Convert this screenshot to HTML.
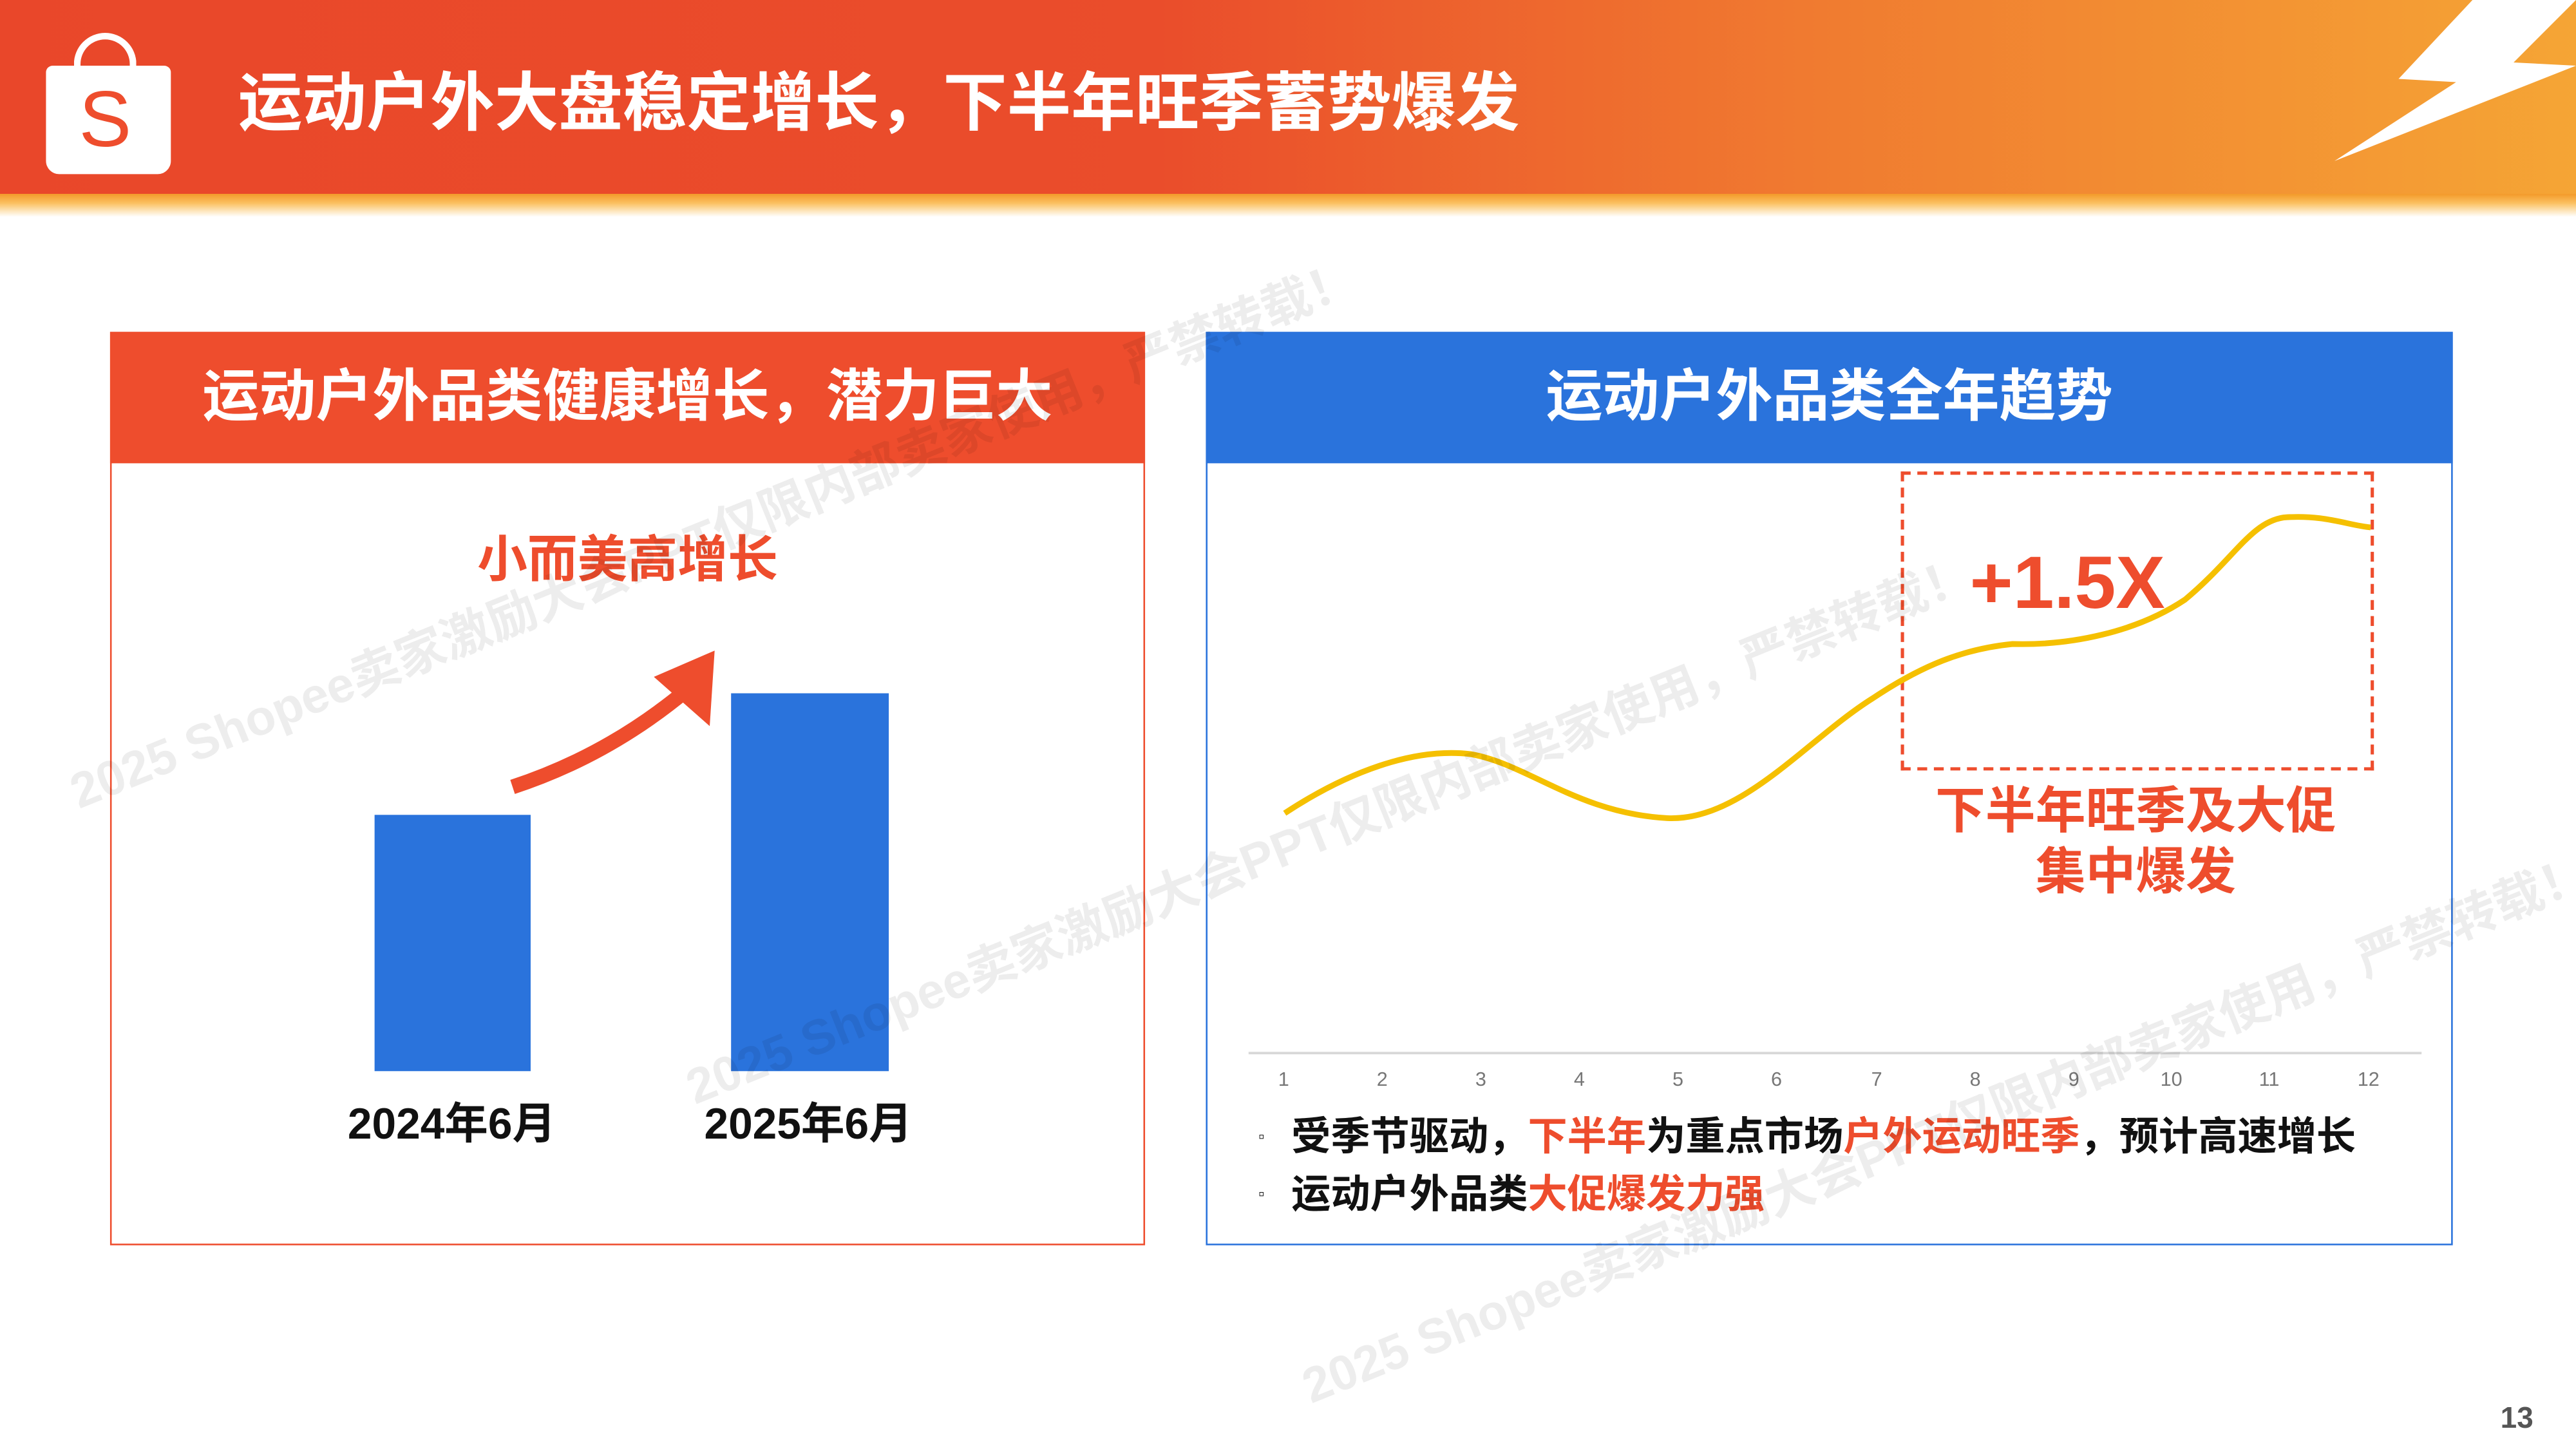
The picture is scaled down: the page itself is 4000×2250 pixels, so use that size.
<!DOCTYPE html>
<html><head><meta charset="utf-8"><style>
html,body{margin:0;padding:0;background:#fff;overflow:hidden}
#s{position:absolute;left:0;top:0;width:1568px;height:882px;transform:scale(2.55102);transform-origin:0 0;font-family:"Liberation Sans","Noto Sans CJK SC",sans-serif;background:#fff;overflow:hidden}
.a{position:absolute;white-space:nowrap}
.wm{position:absolute;white-space:nowrap;color:rgba(0,0,0,0.07);font-size:30px;font-weight:bold;transform:rotate(-22deg);transform-origin:0 0}
</style></head><body><div id="s">
<div class="a" style="left:0;top:0;width:1568px;height:122px;background:linear-gradient(90deg,#e9472a 0%,#ea4d2b 45%,#f07a30 70%,#f5a535 100%)"></div>
<div class="a" style="left:0;top:118px;width:1568px;height:14px;background:linear-gradient(180deg,#f39a2a,#fbc060 40%,#fde1b0 70%,#fff)"></div>
<div class="a" style="left:28px;top:40px;width:76px;height:66px;background:#fff;border-radius:4px 4px 8px 8px"></div>
<div class="a" style="left:45px;top:20px;width:38px;height:40px;border:4px solid #fff;border-bottom:none;border-radius:20px 20px 0 0;box-sizing:border-box"></div>
<div class="a" style="left:48px;top:46px;font-size:48px;color:#ee4d2d;font-family:'Liberation Sans',sans-serif">S</div>
<svg class="a" style="left:1420px;top:0" width="148" height="100"><polygon points="85,0 148,0 110,38 148,40 1,98 75,50 40,48" fill="#fff"/></svg>
<div class="a" style="left:145px;top:40px;font-size:39px;font-weight:bold;color:#fff;line-height:48px">运动户外大盘稳定增长，下半年旺季蓄势爆发</div>

<div class="a" style="left:67px;top:202px;width:630px;height:556px;border:1.5px solid #ee4d2d;box-sizing:border-box"></div>
<div class="a" style="left:67px;top:202px;width:630px;height:80px;background:#ee4d2d;color:#fff;font-size:34.5px;font-weight:bold;text-align:center;line-height:80px">运动户外品类健康增长，潜力巨大</div>
<div class="a" style="left:232px;top:322px;width:300px;text-align:center;font-size:30.5px;font-weight:bold;color:#ee4d2d;line-height:38px">小而美高增长</div>
<div class="a" style="left:228px;top:496px;width:95px;height:156px;background:#2a73dc"></div>
<div class="a" style="left:445px;top:422px;width:96px;height:230px;background:#2a73dc"></div>
<svg class="a" style="left:300px;top:390px" width="150" height="100"><path d="M12,89 Q70,70 118,30" stroke="#ee4d2d" stroke-width="9" fill="none"/><polygon points="135,6 132,52 98,22" fill="#ee4d2d"/></svg>
<div class="a" style="left:175px;top:667px;width:200px;text-align:center;font-size:26.5px;font-weight:bold;color:#111;line-height:34px">2024年6月</div>
<div class="a" style="left:392px;top:667px;width:200px;text-align:center;font-size:26.5px;font-weight:bold;color:#111;line-height:34px">2025年6月</div>

<div class="a" style="left:734px;top:202px;width:759px;height:556px;border:1.5px solid #2a73dc;box-sizing:border-box"></div>
<div class="a" style="left:734px;top:202px;width:759px;height:80px;background:#2a73dc;color:#fff;font-size:34.5px;font-weight:bold;text-align:center;line-height:80px">运动户外品类全年趋势</div>
<div class="a" style="left:1157px;top:287px;width:288px;height:182px;border:2px dashed #ee4d2d;box-sizing:border-box"></div>
<svg class="a" style="left:0;top:0" width="1568" height="882"><path d="M782,495 C820,470 860,455 895,459 C930,465 960,495 1015,498 C1060,500 1100,450 1140,425 C1170,405 1195,395 1225,392 C1260,393 1300,385 1330,365 C1360,340 1370,318 1390,315 C1415,313 1430,320 1443,321" stroke="#f5c000" stroke-width="3.5" fill="none"/><line x1="760" y1="641" x2="1474" y2="641" stroke="#d8d8d8" stroke-width="1.5"/></svg>
<div class="a" style="left:1199px;top:328px;font-size:45px;font-weight:bold;color:#ee4d2d;line-height:54px">+1.5X</div>
<div class="a" style="left:1150px;top:476px;width:300px;text-align:center;font-size:30.5px;font-weight:bold;color:#ee4d2d;line-height:37px">下半年旺季及大促<br>集中爆发</div>
<div class="a" style="left:0;top:650px;font-size:12px;color:#777">
<span class="a" style="left:778px">1</span><span class="a" style="left:838px">2</span><span class="a" style="left:898px">3</span><span class="a" style="left:958px">4</span><span class="a" style="left:1018px">5</span><span class="a" style="left:1078px">6</span><span class="a" style="left:1139px">7</span><span class="a" style="left:1199px">8</span><span class="a" style="left:1259px">9</span><span class="a" style="left:1315px">10</span><span class="a" style="left:1375px">11</span><span class="a" style="left:1435px">12</span></div>
<div class="a" style="left:766px;top:677px;font-size:10px;color:#111;line-height:32px">▫</div>
<div class="a" style="left:786px;top:677px;font-size:24px;font-weight:bold;color:#111;line-height:32px">受季节驱动，<span style="color:#ee4d2d">下半年</span>为重点市场<span style="color:#ee4d2d">户外运动旺季</span>，预计高速增长</div>
<div class="a" style="left:766px;top:712px;font-size:10px;color:#111;line-height:32px">▫</div>
<div class="a" style="left:786px;top:712px;font-size:24px;font-weight:bold;color:#111;line-height:32px">运动户外品类<span style="color:#ee4d2d">大促爆发力强</span></div>
<div class="a" style="left:1522px;top:853px;font-size:18px;font-weight:bold;color:#555">13</div>

<div class="wm" style="left:35px;top:460px">2025 Shopee卖家激励大会PPT仅限内部卖家使用，严禁转载！</div>
<div class="wm" style="left:410px;top:640px">2025 Shopee卖家激励大会PPT仅限内部卖家使用，严禁转载！</div>
<div class="wm" style="left:785px;top:822px">2025 Shopee卖家激励大会PPT仅限内部卖家使用，严禁转载！</div>
</div></body></html>
